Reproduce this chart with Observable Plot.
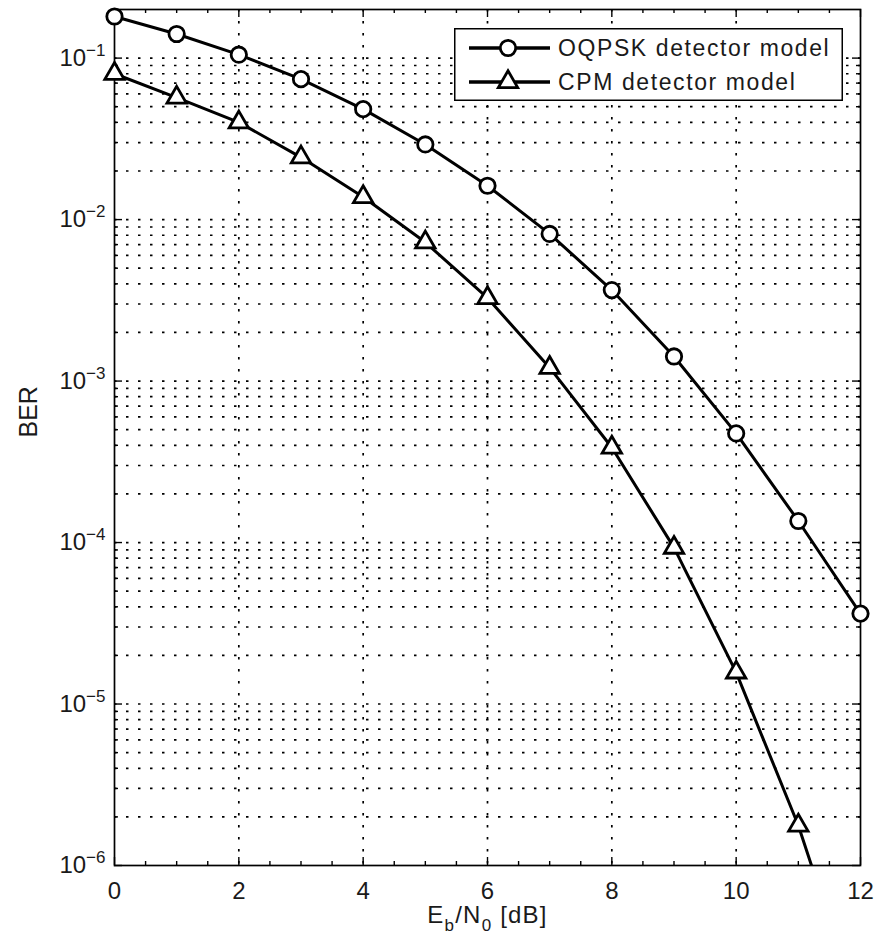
<!DOCTYPE html>
<html><head><meta charset="utf-8">
<script src="https://cdn.jsdelivr.net/npm/d3@7"></script>
<script src="https://cdn.jsdelivr.net/npm/@observablehq/plot@0.6"></script>
<style>
html,body{margin:0;padding:0;background:#fff;}
#chart{position:relative;width:880px;height:942px;}
#legend{position:absolute;left:454px;top:28px;}
</style></head><body>
<div id="chart"></div>
<script>
// ---- data ----
const ebn0 = [0, 1, 2, 3, 4, 5, 6, 7, 8, 9, 10, 11, 12];
const berOQPSK = [0.181, 0.141, 0.105, 0.0741, 0.0483, 0.0292, 0.0162, 0.00815, 0.00366, 0.00142, 0.000474, 0.000136, 0.0000363];
const berCPM = [0.080, 0.057, 0.040, 0.0243, 0.0138, 0.00723, 0.00327, 0.00121, 0.000388, 0.000093, 0.0000157, 0.00000177, 0.00000012];
const seriesNames = ["OQPSK detector model", "CPM detector model"];
const xTickValues = [0, 2, 4, 6, 8, 10, 12];
const xMinorTicks = [0.5, 1, 1.5, 2.5, 3, 3.5, 4.5, 5, 5.5, 6.5, 7, 7.5, 8.5, 9, 9.5, 10.5, 11, 11.5];
const xGridValues = [2, 4, 6, 8, 10];
const yTickValues = [1e-6, 1e-5, 1e-4, 1e-3, 1e-2, 1e-1];
const yMantissas = [2, 3, 4, 5, 6, 7, 8, 9];
const xLabelParts = [["E", false], ["b", true], ["/N", false], ["0", true], [" [dB]", false]];
const yLabel = "BER";

// ---- layout ----
const W = 880, H = 942, mL = 114, mR = 20, mT = 9, mB = 77;
const innerH = H - mT - mB, innerW = W - mL - mR;
const yDomain = [1e-6, 0.2];
const yMinorTicks = yTickValues.flatMap(t => yMantissas.map(m => +(m * t).toPrecision(3))).filter(v => v < yDomain[1]);
const yGridValues = [...yTickValues.slice(1), ...yMinorTicks];

const rowsO = ebn0.map((x, i) => ({x, y: berOQPSK[i], s: seriesNames[0]}));
const rowsC = ebn0.map((x, i) => ({x, y: berCPM[i], s: seriesNames[1]}));

const font = "'Liberation Sans', Arial, Helvetica, sans-serif";
const dotted = {stroke: "#000", strokeWidth: 1.7, strokeDasharray: "2.5,9.5"};
const tk = {stroke: "#000", strokeWidth: 1.4};
const majLen = 8, minLen = 4;
const lineW = 3;
const tickFont = 24;

const chart = Plot.plot({
  width: W, height: H,
  marginLeft: mL, marginRight: mR, marginTop: mT, marginBottom: mB,
  style: {fontFamily: font, fontSize: "24px", color: "#1a1a1a", background: "#fff", overflow: "visible"},
  x: {domain: [0, 12], ticks: xTickValues, tickSize: 0, tickPadding: 16, label: null, fontSize: tickFont},
  y: {type: "log", domain: yDomain, ticks: yTickValues, tickFormat: d => "10|" + Math.round(Math.log10(d)), tickSize: 0, tickPadding: 9, label: null, fontSize: tickFont},
  marks: [
    Plot.ruleY(yGridValues, {y: d => d, ...dotted}),
    Plot.ruleX(xGridValues, {x: d => d, ...dotted}),
    // inward ticks: bottom & top
    Plot.tickX(xTickValues, {x: d => d, insetTop: innerH - majLen, ...tk}),
    Plot.tickX(xMinorTicks, {x: d => d, insetTop: innerH - minLen, ...tk}),
    Plot.tickX(xTickValues, {x: d => d, insetBottom: innerH - majLen, ...tk}),
    Plot.tickX(xMinorTicks, {x: d => d, insetBottom: innerH - minLen, ...tk}),
    // inward ticks: left & right
    Plot.tickY(yTickValues, {y: d => d, insetRight: innerW - majLen, ...tk}),
    Plot.tickY(yMinorTicks, {y: d => d, insetRight: innerW - minLen, ...tk}),
    Plot.tickY(yTickValues, {y: d => d, insetLeft: innerW - majLen, ...tk}),
    Plot.tickY(yMinorTicks, {y: d => d, insetLeft: innerW - minLen, ...tk}),
    Plot.frame({stroke: "#000", strokeWidth: 1.7}),
    Plot.line(rowsO, {x: "x", y: "y", stroke: "#000", strokeWidth: lineW, clip: true}),
    Plot.line(rowsC, {x: "x", y: "y", stroke: "#000", strokeWidth: lineW, clip: true}),
    Plot.dot(rowsO, {x: "x", y: "y", r: 7.7, symbol: "circle", stroke: "#000", fill: "#fff", strokeWidth: 2.8}),
    Plot.dot(rowsC.filter(d => d.y >= yDomain[0]), {x: "x", y: "y", r: 7.2, symbol: "triangle", stroke: "#000", fill: "#fff", strokeWidth: 2.8}),
    Plot.text([yLabel], {frameAnchor: "left", rotate: -90, dx: -86, fontSize: 25, fill: "#1a1a1a"}),
    Plot.text(["XLABEL"], {frameAnchor: "bottom", dy: 57, fontSize: 24, fill: "#1a1a1a"})
  ]
});
document.getElementById("chart").appendChild(chart);

// superscripts in y tick labels, subscripts in x label, tick font size
d3.select(chart).selectAll("text").each(function () {
  const t = this.textContent;
  const m = /^10\|(-?\d+)$/.exec(t);
  const sel = d3.select(this);
  if (m) {
    sel.text(null).attr("font-size", tickFont).style("font-size", tickFont + "px");
    sel.append("tspan").text("10");
    sel.append("tspan").attr("font-size", 17).style("font-size", "17px").attr("dy", -10).text(m[1].replace("-", "\u2212"));
  } else if (/^\d+$/.test(t)) {
    sel.attr("font-size", tickFont).style("font-size", tickFont + "px");
  } else if (t === "XLABEL") {
    sel.text(null).attr("letter-spacing", 1.2);
    let sub = false;
    for (const [s, isSub] of xLabelParts) {
      const ts = sel.append("tspan").text(s);
      if (isSub && !sub) ts.attr("font-size", 17).attr("dy", 8);
      else if (isSub) ts.attr("font-size", 17);
      else if (!isSub && sub) ts.attr("dy", -8);
      sub = isSub;
    }
  }
});

// legend (inside axes, top right)
const lg = d3.select("#chart").append("svg").attr("id", "legend").attr("width", 390).attr("height", 74)
  .style("font-family", font);
lg.append("rect").attr("x", 0.75).attr("y", 0.75).attr("width", 387.5).attr("height", 71.5)
  .attr("fill", "#fff").attr("stroke", "#000").attr("stroke-width", 1.5);
const rowsY = [20, 54];
seriesNames.forEach((name, i) => {
  const y = rowsY[i];
  lg.append("line").attr("x1", 15).attr("x2", 96).attr("y1", y).attr("y2", y).attr("stroke", "#000").attr("stroke-width", 3.4);
  const sym = i === 0 ? d3.symbolCircle : d3.symbolTriangle;
  const r = i === 0 ? 7.7 : 7.2;
  lg.append("path").attr("d", d3.symbol(sym, Math.PI * r * r)()).attr("transform", `translate(54,${y})`)
    .attr("fill", "#fff").attr("stroke", "#000").attr("stroke-width", 2.8);
  lg.append("text").attr("x", 104).attr("y", y + 8).attr("font-size", 23).attr("letter-spacing", 1.6)
    .attr("fill", "#1a1a1a").text(name);
});
</script>
</body></html>
